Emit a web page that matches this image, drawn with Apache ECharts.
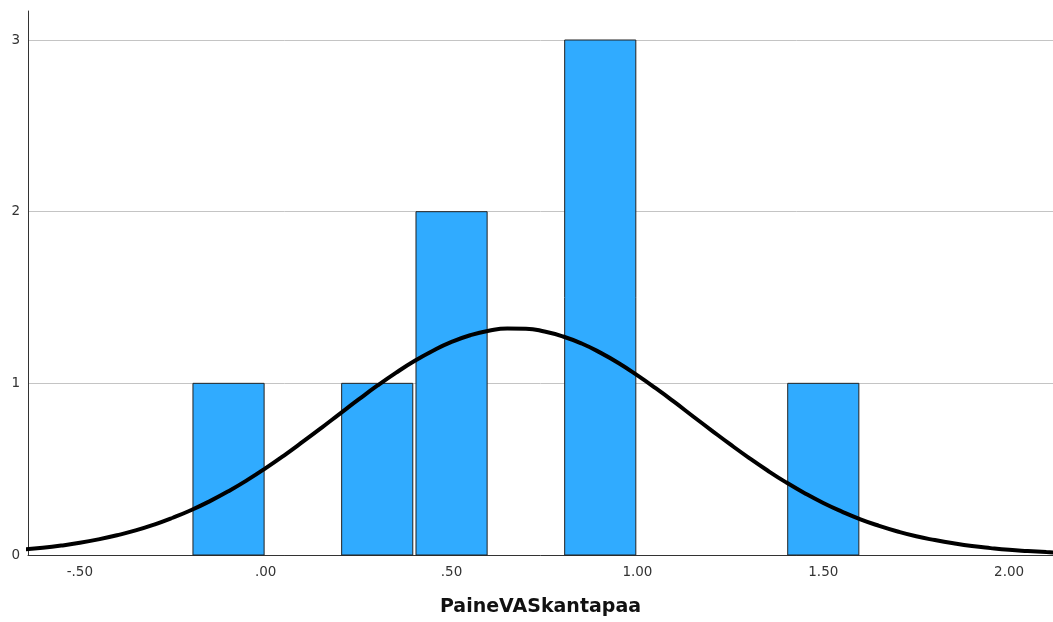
<!DOCTYPE html>
<html>
<head>
<meta charset="utf-8">
<script src="https://cdn.jsdelivr.net/npm/echarts@6/dist/echarts.min.js"></script>
<style>
html,body{margin:0;padding:0;background:#fff;}
#chart{width:1053px;height:622px;}
</style>
</head>
<body>
<div id="chart"></div>
<script>
// Histogram bins (start, end) and frequencies
const binStart = [-0.2, 0.2, 0.4, 0.8, 1.4];
const binEnd   = [0.0, 0.4, 0.6, 1.0, 1.6];
const counts   = [1, 1, 2, 3, 1];

// Fitted normal curve
const curveX = [-0.65,-0.6,-0.55,-0.5,-0.45,-0.4,-0.35,-0.3,-0.25,-0.2,-0.15,-0.1,-0.05,0,0.05,0.1,0.15,0.2,0.25,0.3,0.35,0.4,0.45,0.5,0.55,0.6,0.65,0.7,0.75,0.8,0.85,0.9,0.95,1.0,1.05,1.1,1.15,1.2,1.25,1.3,1.35,1.4,1.45,1.5,1.55,1.6,1.65,1.7,1.75,1.8,1.85,1.9,1.95,2.0,2.05,2.1,2.15];
const curveY = [0.032,0.042,0.055,0.071,0.091,0.115,0.143,0.177,0.217,0.262,0.314,0.372,0.436,0.506,0.581,0.660,0.741,0.824,0.906,0.986,1.061,1.130,1.190,1.241,1.280,1.306,1.319,1.318,1.302,1.273,1.232,1.179,1.117,1.046,0.970,0.890,0.807,0.725,0.644,0.566,0.492,0.423,0.360,0.303,0.253,0.208,0.170,0.137,0.109,0.087,0.068,0.052,0.040,0.030,0.023,0.017,0.012];

// Tick labels
const xTickValues = [-0.5, 0, 0.5, 1.0, 1.5, 2.0];
const xTickLabels = ['-.50', '.00', '.50', '1.00', '1.50', '2.00'];
const yTickValues = [0, 1, 2, 3];
const xName = 'PaineVASkantapaa';

const chart = echarts.init(document.getElementById('chart'), null, {renderer: 'canvas'});

const barData = binStart.map((s, i) => [s, binEnd[i], counts[i]]);
const curveData = curveX.map((x, i) => [x, curveY[i]]);

const option = {
  animation: false,
  backgroundColor: '#ffffff',
  grid: {left: 28, right: 0, top: 11, bottom: 65, containLabel: false},
  xAxis: {
    type: 'value',
    min: -0.6395,
    max: 2.118,
    name: xName,
    nameLocation: 'middle',
    nameGap: 43,
    nameTextStyle: {fontFamily: 'DejaVu Sans', fontWeight: 'bold', fontSize: 19, color: '#111'},
    axisLine: {show: true, onZero: false, lineStyle: {color: '#333', width: 1}},
    axisTick: {show: false, customValues: xTickValues},
    splitLine: {show: false},
    axisLabel: {
      customValues: xTickValues,
      formatter: function (v) {
        const i = xTickValues.findIndex(t => Math.abs(t - v) < 1e-9);
        return i >= 0 ? xTickLabels[i] : '';
      },
      fontFamily: 'DejaVu Sans', fontSize: 13.5, color: '#333', margin: 10
    }
  },
  yAxis: {
    type: 'value',
    min: 0,
    max: 3.169,
    axisLine: {show: true, onZero: false, lineStyle: {color: '#333', width: 1}},
    axisTick: {show: false, customValues: yTickValues},
    splitLine: {show: true, lineStyle: {color: '#c4c4c4', width: 1}},
    axisLabel: {
      customValues: yTickValues,
      formatter: function (v) { return String(Math.round(v)); },
      fontFamily: 'DejaVu Sans', fontSize: 13.5, color: '#333', margin: 8
    }
  },
  series: [
    {
      type: 'custom',
      z: 2,
      data: barData,
      encode: {x: [0, 1], y: 2},
      renderItem: function (params, api) {
        const p0 = api.coord([api.value(0), api.value(2)]);
        const p1 = api.coord([api.value(1), 0]);
        const inset = 1.6;
        return {
          type: 'rect',
          shape: {x: p0[0] + inset, y: p0[1], width: p1[0] - p0[0] - 2 * inset, height: p1[1] - p0[1]},
          style: {fill: '#30abff', stroke: '#222', lineWidth: 1}
        };
      }
    },
    {
      type: 'line',
      z: 3,
      data: curveData,
      smooth: true,
      showSymbol: false,
      clip: true,
      lineStyle: {color: '#000', width: 4},
      itemStyle: {color: '#000'}
    }
  ]
};
chart.setOption(option);
</script>
</body>
</html>
